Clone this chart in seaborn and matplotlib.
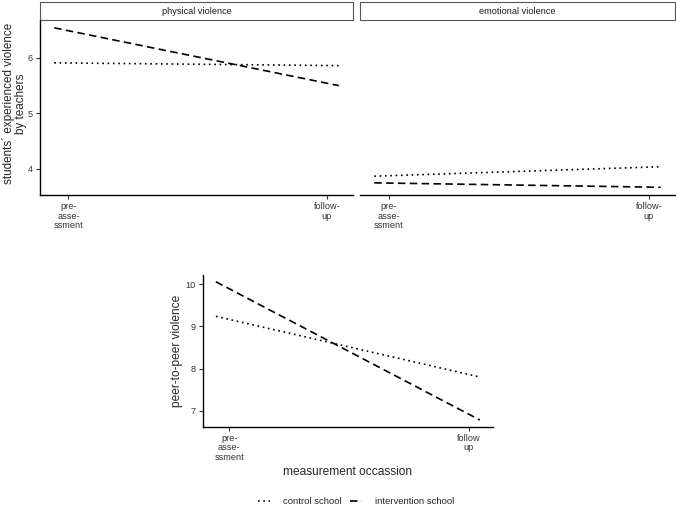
import numpy as np
import pandas as pd
import matplotlib.pyplot as plt
import seaborn as sns
from matplotlib.lines import Line2D
from matplotlib.patches import Rectangle

sns.set_theme(style="ticks")
plt.rcParams['font.family'] = ['Liberation Sans', 'DejaVu Sans']

# measurement occasions (months) and the regression line end points
time_points = [0, 12]
tick_pos = [0.6, 11.5]
tick_labels_top = ["pre-\nasse-\nssment", "follow-\nup"]
tick_labels_bottom = ["pre-\nasse-\nssment", "follow\nup"]

groups = ["control school", "intervention school"]

# students' experienced violence by teachers
physical_control = [5.91, 5.86]
physical_intervention = [6.54, 5.50]
emotional_control = [3.87, 4.04]
emotional_intervention = [3.75, 3.67]

# peer-to-peer violence
peer_control = [9.24, 7.80]
peer_intervention = [10.06, 6.78]


def long_frame(control, intervention):
    return pd.DataFrame({
        'time': time_points * 2,
        'value': control + intervention,
        'group': [groups[0]] * 2 + [groups[1]] * 2,
    })


dashes = {groups[0]: (1, 2.2), groups[1]: (4.5, 2.6)}

fig = plt.figure(figsize=(6.76, 5.08), dpi=100)
ax1 = fig.add_axes([0.0592, 0.616, 0.463, 0.3445])
ax2 = fig.add_axes([0.5325, 0.616, 0.466, 0.3445])
ax3 = fig.add_axes([0.2999, 0.160, 0.4294, 0.2986])

panels = [
    (ax1, physical_control, physical_intervention, "physical violence"),
    (ax2, emotional_control, emotional_intervention, "emotional violence"),
    (ax3, peer_control, peer_intervention, None),
]

for ax, ctrl, intv, strip in panels:
    df = long_frame(ctrl, intv)
    sns.lineplot(data=df, x='time', y='value', style='group', dashes=dashes,
                 color='black', linewidth=1.2, legend=False, ax=ax)
    ax.set_xlim(-0.6, 12.6)
    ax.set_xticks(tick_pos)
    ax.set_xlabel("")
    ax.set_ylabel("")
    for side in ['top', 'right']:
        ax.spines[side].set_visible(False)
    for side in ['left', 'bottom']:
        ax.spines[side].set_linewidth(1.0)
        ax.spines[side].set_color('black')
    ax.tick_params(axis='both', length=3, width=0.8, labelsize=6.6,
                   colors='#333333', pad=2)
    if strip:
        rect = Rectangle((0, 1.0), 1, 0.103, transform=ax.transAxes,
                         facecolor='white', edgecolor='#555555', linewidth=0.8,
                         clip_on=False)
        ax.add_patch(rect)
        ax.text(0.5, 1.0515, strip, transform=ax.transAxes, ha='center',
                va='center', fontsize=6.6, color='#1a1a1a')

for ax in (ax1, ax2):
    ax.set_ylim(3.53, 6.68)
    ax.set_yticks([4, 5, 6])
    ax.set_xticklabels(tick_labels_top, linespacing=1.1)

ax2.spines['left'].set_visible(False)
ax2.tick_params(axis='y', left=False, labelleft=False)

ax3.set_ylim(6.62, 10.22)
ax3.set_yticks([7, 8, 9, 10])
ax3.set_xticklabels(tick_labels_bottom, linespacing=1.1)
ax3.set_xlim(-0.6, 12.6)

ax1.set_ylabel("students´ experienced violence\nby teachers", fontsize=8.4,
               linespacing=1.0)
ax1.yaxis.set_label_coords(-0.04, 0.523)
ax3.set_ylabel("peer-to-peer violence", fontsize=8.6)
ax3.yaxis.set_label_coords(-0.068, 0.5)
ax3.set_xlabel("measurement occassion", fontsize=8.6, labelpad=3)

handles = [Line2D([], [], color='black', linewidth=1.2, dashes=dashes[g])
           for g in groups]
fig.legend(handles, groups, loc='center', bbox_to_anchor=(0.527, 0.012),
           ncol=2, frameon=False, fontsize=6.8, handlelength=1.3,
           columnspacing=0.85, handletextpad=1.4)

fig.savefig("out.png", dpi=100)
